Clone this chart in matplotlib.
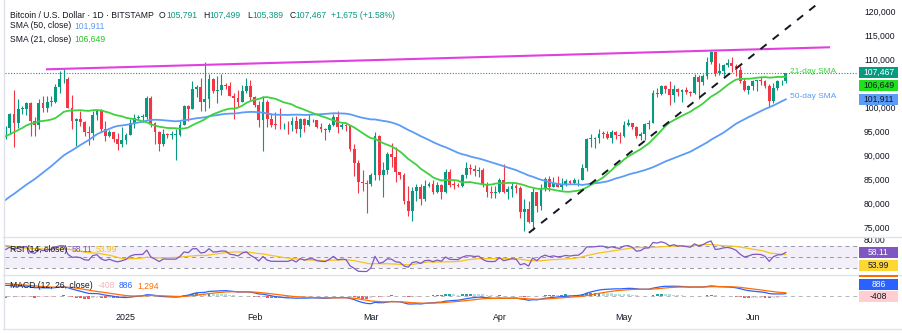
import numpy as np
import pandas as pd
import matplotlib
matplotlib.use("Agg")
import matplotlib.pyplot as plt
import matplotlib.patches as mpatches
from matplotlib.lines import Line2D
from matplotlib.transforms import IdentityTransform, Bbox

plt.rcParams["font.family"] = ["Liberation Sans", "DejaVu Sans"]

# ── BTC/USD daily, Bitstamp ─────────────────────────────────────────────────
first_day = "2024-12-02"

# closes before the first visible bar, only used to seed SMA / RSI / MACD
warmup_closes = [
    60800, 60650, 60750, 62100, 62050, 62800, 62250, 62150, 60600, 60300,
    62450, 63200, 62850, 66050, 67050, 67600, 67400, 68400, 68350, 69000,
    67350, 67400, 66650, 68150, 66600, 67050, 67950, 69900, 72700, 72350, 70250,
    69500, 69300, 68750, 67800, 69400, 75600, 75900, 76500, 76700, 80400,
    88700, 87950, 90400, 87300, 91100, 90600, 89850, 90450, 92300, 94300,
    98400, 98950, 97700, 98000, 93000, 91950, 95900, 95650, 97450, 96400,
    97200,
]

closes = [
    # Dec
    95850, 95900, 98750, 96950, 99850, 99900, 101150, 97300, 96600, 101150,
    100000, 101400, 101400, 104400, 106050, 106150, 100200, 97450, 97750, 97200,
    95200, 94850, 98700, 99400, 95750, 94200, 95200, 93600, 92650, 93400,
    # Jan
    94400, 96900, 98100, 98250, 98300, 102100, 96950, 95050, 92500, 94700,
    94500, 94500, 94500, 96500, 100500, 99950, 104100, 104400, 101300, 102000,
    106150, 103650, 103950, 104800, 104700, 102600, 102100, 101300, 103700, 104750, 102400,
    # Feb
    100650, 97700, 101400, 97850, 96600, 96550, 96500, 96550, 96500, 97400,
    95750, 97850, 96650, 97500, 97550, 96150, 95750, 95550, 96650, 98300,
    96150, 96550, 96300, 91500, 88700, 84700, 84400, 84350,
    # Mar
    86050, 94250, 86100, 87200, 90600, 89950, 86750, 86150, 80700, 78550,
    82900, 83700, 81100, 83950, 84350, 82600, 84050, 82700, 86850, 84150,
    84050, 83850, 86100, 87500, 87450, 86900, 87200, 84350, 82650, 82400, 82550,
    # Apr
    85150, 82500, 83150, 83850, 83500, 78350, 79150, 76300, 82600, 79600,
    83400, 85300, 83700, 84550, 83650, 84050, 84950, 84450, 85050, 85150,
    87500, 93700, 93700, 93950, 94700, 94650, 93750, 95000, 94500, 94200,
    # May
    96500, 96900, 96150, 94300, 94750, 96800, 97050, 103200, 102950, 104700,
    104100, 102800, 104150, 103500, 103750, 103450, 103150, 106500, 105600, 106850,
    109650, 111700, 107300, 107800, 109000, 109450, 108950, 108000, 105750, 103950, 104600,
    # Jun
    105700, 105850, 105700, 104700, 101500, 104300, 105650, 105791, 107467,
]

highs = [
    98150, 96300, 99000, 103900, 101900, 100500, 101400, 101300, 98200, 101900,
    102500, 102600, 102600, 105200, 107800, 108300, 106500, 102800, 98100, 99500,
    97300, 96400, 99400, 99950, 99950, 97300, 95500, 95200, 94900, 96100,
    94900, 97800, 98900, 98700, 98800, 102500, 102700, 97200, 95300, 95800,
    94950, 95300, 95800, 97300, 100700, 100800, 105800, 104900, 106300, 109600,
    107200, 106300, 106800, 107100, 105300, 105500, 103200, 103800, 104800, 106400, 106000,
    102700, 101500, 102500, 101800, 99000, 99200, 100100, 96900, 97300, 98300,
    98500, 98100, 98000, 98800, 97900, 97700, 97000, 96000, 96900, 98800,
    99500, 96900, 96700, 96500, 92500, 89300, 87100, 85100,
    86600, 95000, 94400, 88900, 91000, 92800, 92000, 86800, 86500, 83900,
    83600, 84300, 84300, 85200, 84700, 85000, 84700, 84300, 87400, 87400,
    84800, 84500, 86300, 88800, 88500, 88200, 87800, 87500, 84600, 83900, 83900,
    85500, 88500, 83900, 84700, 84200, 83800, 81200, 80800, 83500, 82700,
    84200, 85800, 86000, 85800, 85900, 85500, 85400, 85100, 85600, 85300,
    88400, 93800, 94700, 94000, 95700, 95300, 95300, 95500, 95400, 95200,
    97400, 97900, 96900, 96300, 95200, 96900, 97700, 103800, 104300, 104900,
    104900, 105800, 104900, 104300, 104100, 104500, 103700, 107100, 107000, 107200,
    110800, 111980, 111800, 109500, 109300, 110400, 110700, 109300, 108900, 106300, 104900,
    105900, 105900, 106800, 105900, 105000, 105300, 106000, 106000, 107499,
]

lows = [
    94000, 93600, 94700, 92000, 95900, 98900, 98700, 94200, 94300, 95700,
    99300, 99200, 100600, 101200, 103300, 105300, 100000, 95700, 92200, 96400,
    94200, 92400, 93400, 97600, 95200, 93300, 94100, 93000, 91300, 92000,
    92700, 94400, 96000, 97500, 97200, 97900, 96100, 92500, 91200, 92200,
    93800, 93700, 89200, 94300, 96500, 97300, 99900, 102300, 99500, 99500,
    100100, 103300, 101200, 102800, 104100, 102500, 97800, 100300, 101300, 103300, 101600,
    100300, 96200, 91200, 96200, 96200, 95700, 95700, 95700, 94700, 95300,
    94900, 94100, 95200, 96300, 97200, 96000, 95200, 93400, 95000, 96400,
    94800, 95800, 95300, 91200, 86000, 82300, 82800, 78200,
    83900, 85100, 85100, 81500, 86300, 87800, 84700, 85300, 80000, 77500,
    76600, 80700, 79900, 80700, 83700, 82100, 82400, 81200, 82400, 83700,
    83200, 83700, 83700, 85500, 86300, 85900, 85800, 83600, 81600, 81300, 81300,
    82400, 82300, 81200, 81600, 82400, 77200, 74500, 76200, 74600, 78400,
    78900, 82800, 82900, 83700, 83600, 83100, 83900, 84200, 84300, 83900,
    85100, 87000, 91900, 91700, 92900, 93900, 93600, 92900, 93700, 92900,
    94100, 96300, 95700, 93900, 93500, 93400, 95800, 96900, 102300, 102800,
    103300, 100800, 101400, 102600, 101400, 103100, 102600, 103100, 102000, 104900,
    106100, 109300, 106800, 106900, 106700, 108700, 107600, 106700, 105400, 103700, 103100,
    103900, 103700, 104900, 104200, 100400, 101100, 103900, 104900, 105389,
]

# drawn trendlines (bar index, price)
resistance_days = [10.96, 199.4]
resistance_prices = [108170, 112750]
support_days = [127.1, 196.3]
support_prices = [74100, 121560]

month_labels = ["2025", "Feb", "Mar", "Apr", "May", "Jun"]
month_starts = ["2025-01-01", "2025-02-01", "2025-03-01", "2025-04-01",
                "2025-05-01", "2025-06-01"]
price_ticks = list(range(75000, 120001, 5000))

# ── indicators ──────────────────────────────────────────────────────────────
full = pd.Series(warmup_closes + closes, dtype=float)
n = len(closes)
sma50 = full.rolling(50).mean().iloc[-n:].to_numpy()
sma21 = full.rolling(21).mean().iloc[-n:].to_numpy()

delta = full.diff()
up = delta.clip(lower=0).ewm(alpha=1 / 14, adjust=False).mean()
dn = (-delta.clip(upper=0)).ewm(alpha=1 / 14, adjust=False).mean()
rsi_full = 100 - 100 / (1 + up / dn)
rsi_ma = rsi_full.rolling(14).mean().iloc[-n:].to_numpy()
rsi = rsi_full.iloc[-n:].to_numpy()

macd_full = full.ewm(span=12, adjust=False).mean() - full.ewm(span=26, adjust=False).mean()
signal_full = macd_full.ewm(span=9, adjust=False).mean()
macd = macd_full.iloc[-n:].to_numpy()
signal = signal_full.iloc[-n:].to_numpy()
hist = macd - signal

x = np.arange(n)
c = np.array(closes, float)
o = np.concatenate([[warmup_closes[-1]], c[:-1]])
h = np.array(highs, float)
l = np.array(lows, float)

# ── colours ─────────────────────────────────────────────────────────────────
UP, DOWN = "#089981", "#f23645"
C_50, C_21 = "#5b9cf6", "#3fd13f"
C_RSI, C_RSIMA = "#7e57c2", "#f5c518"
C_MACD, C_SIG = "#2962ff", "#ff6d00"
INK = "#131722"
SEP = "#e0e3eb"

W, H, DPI = 903, 334, 100
fig = plt.figure(figsize=(W / DPI, H / DPI), dpi=DPI)
fig.patch.set_facecolor("white")

def fx(px):
    return px / W

def fy(py):
    return 1 - py / H

LEFT, RIGHT = 5, 858
ax = fig.add_axes([fx(LEFT), fy(237), fx(RIGHT) - fx(LEFT), 237 / H])
ax_rsi = fig.add_axes([fx(LEFT), fy(275), fx(RIGHT) - fx(LEFT), 38 / H])
ax_macd = fig.add_axes([fx(LEFT), fy(308), fx(RIGHT) - fx(LEFT), 33 / H])
for a in (ax, ax_rsi, ax_macd):
    a.set_xlim(0.84, 206.4)
    a.axis("off")

# ── price panel ─────────────────────────────────────────────────────────────
ax.set_ylim(73229, 122604)
cols = np.where(c >= o, UP, DOWN)
ax.vlines(x, l, h, colors=cols, lw=0.8, zorder=2)
body = np.maximum(np.abs(c - o), 150)
ax.bar(x, body, bottom=np.minimum(o, c), width=0.68, color=cols, lw=0, zorder=3)

ax.plot(x, sma50, color=C_50, lw=1.3, zorder=4)
ax.plot(x, sma21, color=C_21, lw=1.3, zorder=4)
ax.axhline(c[-1], color=UP, lw=0.8, ls=(0, (1, 1.5)), zorder=1)

ax.plot(resistance_days, resistance_prices, color="#e040e0", lw=1.5, zorder=5)
ax.plot(support_days, support_prices, color=INK, lw=1.4, ls=(0, (4, 4)), zorder=5)

ax.text(x[-1] + 1, sma21[-1] + 1000, "21-day SMA", color=C_21, fontsize=6,
        va="center", ha="left", zorder=6)
ax.text(x[-1] + 1, sma50[-1] + 550, "50-day SMA", color=C_50, fontsize=6,
        va="center", ha="left", zorder=6)

ytr = ax.get_yaxis_transform()
for p in price_ticks:
    ax.text(1 + 6 / (RIGHT - LEFT), p, f"{p:,}", transform=ytr, fontsize=6.2,
            color=INK, va="center", ha="left", clip_on=False)

# ── RSI panel ───────────────────────────────────────────────────────────────
ax_rsi.set_ylim(18.2, 85.3)
ax_rsi.axhspan(30, 70, color=C_RSI, alpha=0.09, lw=0)
for lv in (70, 50, 30):
    ax_rsi.axhline(lv, color="#9598a1", lw=0.7, ls=(0, (4, 4)))
ax_rsi.plot(x, rsi_ma, color=C_RSIMA, lw=0.9)
ax_rsi.plot(x, rsi, color=C_RSI, lw=0.9)
ax_rsi.text(1 + 6 / (RIGHT - LEFT), 80, "80.00", transform=ax_rsi.get_yaxis_transform(),
            fontsize=6.2, color=INK, va="center", ha="left", clip_on=False)

# ── MACD panel ──────────────────────────────────────────────────────────────
vmax = max(macd.max(), signal.max())
vmin = min(macd.min(), signal.min())
k = (304 - 283) / (vmax - vmin)
ax_macd.set_ylim(vmin - (308 - 304) / k, vmax + (283 - 275) / k)
ax_macd.axhline(0, color="#b2b5be", lw=0.7, ls=(0, (4, 4)))
prev = np.concatenate([[hist[0]], hist[:-1]])
hcols = np.where(hist >= 0, np.where(hist > prev, "#26a69a", "#b2dfdb"),
                 np.where(hist < prev, "#ff5252", "#ffcdd2"))
ax_macd.bar(x, hist, width=0.68, color=hcols, lw=0)
ax_macd.plot(x, macd, color=C_MACD, lw=0.9)
ax_macd.plot(x, signal, color=C_SIG, lw=0.9)

# ── panel separators ────────────────────────────────────────────────────────
for py in (237, 275, 329):
    fig.add_artist(Line2D([fx(3), 1], [fy(py)] * 2, color=SEP, lw=1,
                          transform=fig.transFigure))
fig.add_artist(Line2D([fx(4.5)] * 2, [fy(0), fy(329)], color=SEP, lw=1,
                      transform=fig.transFigure))

# ── time axis ───────────────────────────────────────────────────────────────
d0 = pd.Timestamp(first_day)
for lab, ds in zip(month_labels, month_starts):
    idx = (pd.Timestamp(ds) - d0).days
    px = ax.transData.transform((idx, 0))[0]
    fig.text(px / W, fy(318), lab, fontsize=6.4, color=INK, ha="center", va="center")

# ── price tags on the right scale ───────────────────────────────────────────
TAG_X0, TAG_W, TAG_H, TAG_STEP = 859, 39, 11, 12.6

def draw_tags(a, tags, top_px, bottom_px):
    lo, hi = H - bottom_px, H - top_px
    clip = Bbox([[0, lo], [W, hi]])
    placed = []
    for value, txt, fc, tc in tags:
        y = a.transData.transform((0, value))[1]
        for _ in range(10):
            hit = [(py, pv) for py, pv in placed if abs(y - py) < TAG_STEP - 0.01]
            if not hit:
                break
            py, pv = hit[0]
            y = py - TAG_STEP if value < pv else py + TAG_STEP
        placed.append((y, value))
        r = mpatches.Rectangle((TAG_X0, y - TAG_H / 2), TAG_W, TAG_H, fc=fc, ec="none",
                               transform=IdentityTransform(), zorder=5)
        r.set_clip_box(clip)
        fig.add_artist(r)
        # a tag pushed past the panel edge only shows a sliver of its box
        if lo <= y <= hi:
            t = fig.text(TAG_X0 + TAG_W / 2, y, txt, transform=IdentityTransform(),
                         fontsize=6.2, color=tc, ha="center", va="center", zorder=6)
            t.set_clip_box(clip)

draw_tags(ax, [(c[-1], "107,467", UP, "white"),
               (sma21[-1], "106,649", "#1ee01e", INK),
               (sma50[-1], "101,911", C_50, INK)], 0, 237)
draw_tags(ax_rsi, [(rsi[-1], "58.11", C_RSI, "white"),
                   (rsi_ma[-1], "53.99", "#fdd835", INK)], 237, 275)
draw_tags(ax_macd, [(hist[-1], "-408", "#ffcdd2", INK),
                    (macd[-1], "886", C_MACD, "white"),
                    (signal[-1], "1,294", C_SIG, "white")], 275, 329)

# ── legends (coloured runs of text) ─────────────────────────────────────────
renderer = fig.canvas.get_renderer()

def text_row(x0, py, pieces, size=6.2):
    xp = x0
    for txt, col, gap in pieces:
        t = fig.text(xp / W, fy(py), txt, color=col, fontsize=size, ha="left",
                     va="center", zorder=7)
        xp = t.get_window_extent(renderer=renderer).x1 + gap

text_row(10, 15, [("Bitcoin / U.S. Dollar · 1D · BITSTAMP", INK, 5),
                  ("O", INK, 0.5), ("105,791", UP, 6),
                  ("H", INK, 0.5), ("107,499", UP, 6),
                  ("L", INK, 0.5), ("105,389", UP, 6),
                  ("C", INK, 0.5), ("107,467", UP, 4),
                  ("+1,675 (+1.58%)", UP, 0)])
text_row(10, 26, [("SMA (50, close)", INK, 3), ("101,911", C_50, 0)])
text_row(10, 39, [("SMA (21, close)", INK, 3), ("106,649", "#22c322", 0)])
text_row(10, 249, [("RSI (14, close)", INK, 4), ("58.11", C_RSI, 4),
                   ("53.99", "#f0c419", 0)])
text_row(10, 286, [("MACD (12, 26, close)", INK, 5), ("-408", "#f7b3ba", 4),
                   ("886", C_MACD, 4), ("1,294", C_SIG, 0)])

fig.savefig("out.png", dpi=DPI)
